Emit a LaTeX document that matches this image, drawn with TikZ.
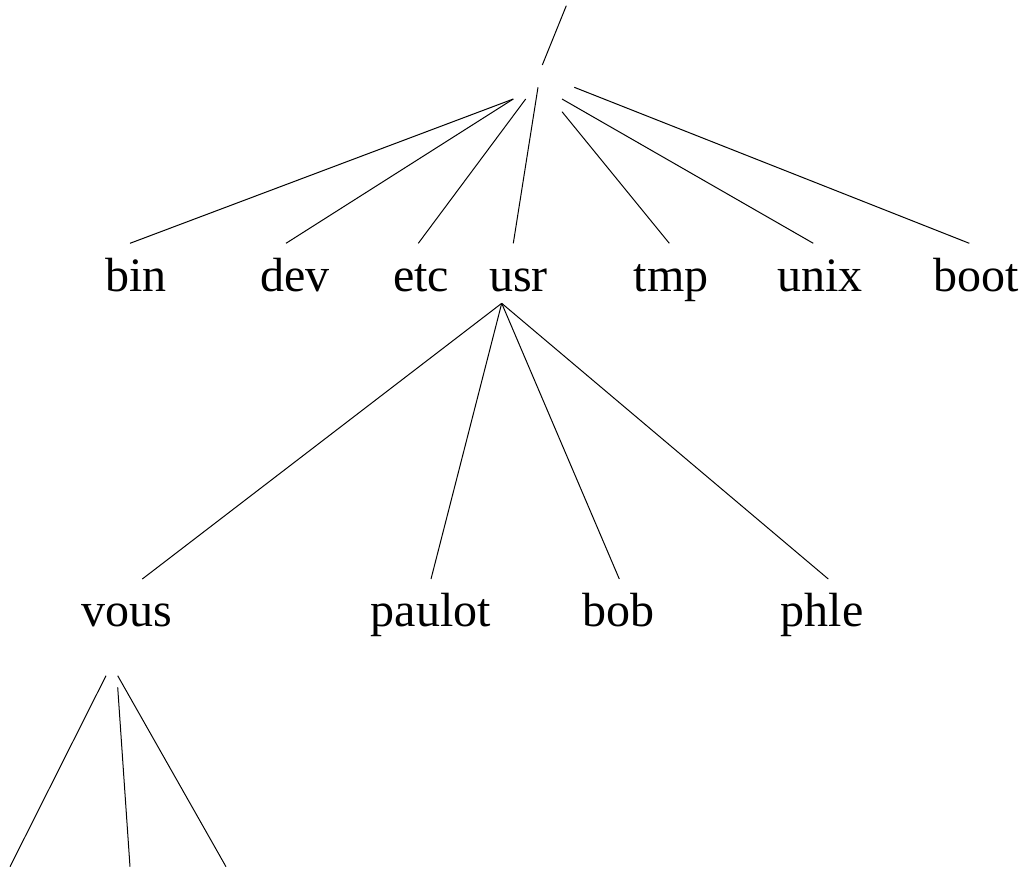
\documentclass[tikz,border=0pt]{standalone}
\usepackage{fontspec}
\setmainfont{Liberation Serif}
\begin{document}
\begin{tikzpicture}[x=1pt,y=-1pt,line width=1pt,
  lbl/.style={anchor=base,inner sep=0pt,font=\fontsize{48}{58}\selectfont},
  edge/.style={draw=black,line width=1pt}]
\useasboundingbox (0,0) rectangle (1024,871);
% labels
\node[lbl] (bin)    at (136,291)   {bin};
\node[lbl] (dev)    at (295,291)   {dev};
\node[lbl] (etc)    at (421,291)   {etc};
\node[lbl] (usr)    at (518.5,291) {usr};
\node[lbl] (tmp)    at (671,291)   {tmp};
\node[lbl] (unix)   at (820,291)   {unix};
\node[lbl] (boot)   at (976,291)   {boot};
\node[lbl] (vous)   at (127,626.7) {vous};
\node[lbl] (paulot) at (430.7,626.7) {paulot};
\node[lbl] (bob)    at (618.8,626.7) {bob};
\node[lbl] (phle)   at (822.3,626.7) {phle};
% root slash
\coordinate (slashtop) at (566.3,5.7);
\coordinate (slashbot) at (542.3,65);
\draw[edge] (slashtop) -- (slashbot);
% root connector ends
\coordinate (rA) at (513.3,99);
\coordinate (rEtc) at (525.7,99);
\coordinate (rUsr) at (538,87.3);
\coordinate (rTmp) at (562,111.7);
\coordinate (rUnix) at (562,99);
\coordinate (rBoot) at (574.3,87.3);
\coordinate (tBin) at (130,243.3);
\coordinate (tDev) at (286,243.3);
\coordinate (tEtc) at (418.3,243.3);
\coordinate (tUsr) at (513.3,243.3);
\coordinate (tTmp) at (669.3,243.3);
\coordinate (tUnix) at (813.3,243.3);
\coordinate (tBoot) at (969.3,243.3);
\draw[edge] (rA) -- (tBin);
\draw[edge] (rA) -- (tDev);
\draw[edge] (rEtc) -- (tEtc);
\draw[edge] (rUsr) -- (tUsr);
\draw[edge] (rTmp) -- (tTmp);
\draw[edge] (rUnix) -- (tUnix);
\draw[edge] (rBoot) -- (tBoot);
% usr children
\coordinate (uB) at (501.7,303.3);
\coordinate (tVous) at (142.3,579);
\coordinate (tPaulot) at (431,579);
\coordinate (tBob) at (619.3,579);
\coordinate (tPhle) at (828.3,579);
\draw[edge] (uB) -- (tVous);
\draw[edge] (uB) -- (tPaulot);
\draw[edge] (uB) -- (tBob);
\draw[edge] (uB) -- (tPhle);
% vous children
\coordinate (vL) at (106,675.7);
\coordinate (vM) at (117.7,687.3);
\coordinate (vR) at (117.7,675.7);
\coordinate (eL) at (10,866.7);
\coordinate (eM) at (130,866.7);
\coordinate (eR) at (226,866.7);
\draw[edge] (vL) -- (eL);
\draw[edge] (vM) -- (eM);
\draw[edge] (vR) -- (eR);
\end{tikzpicture}
\end{document}
